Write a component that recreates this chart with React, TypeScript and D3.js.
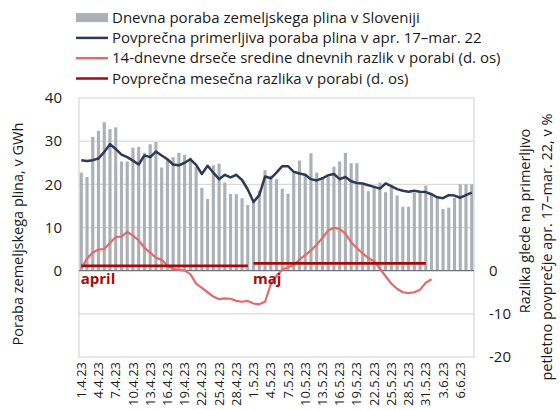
import React from "react";
import * as d3 from "d3";

const startDate = new Date(2023, 3, 1);
const endDate = new Date(2023, 5, 9);
const days: Date[] = d3.timeDay.range(startDate, endDate);
const fmt = d3.timeFormat("%-d.%-m.%y");
const dayLabels: string[] = days.map((d) => fmt(d));

// daily consumption (GWh)
const consumption: number[] = [
  22.7, 21.7, 31.0, 32.4, 34.4, 32.8, 33.2, 25.3, 25.3, 28.5,
  28.7, 27.3, 29.3, 29.8, 23.9, 25.6, 26.3, 27.3, 26.8, 26.2,
  24.0, 19.2, 16.6, 24.4, 24.8, 20.4, 17.8, 17.7, 16.8, 15.2,
  16.5, 18.5, 23.3, 22.0, 21.2, 19.0, 17.8, 22.6, 25.5, 22.4,
  27.2, 22.7, 21.4, 21.8, 24.1, 25.3, 27.3, 24.9, 24.9, 20.0,
  18.4, 19.5, 20.4, 18.2, 19.4, 17.4, 14.8, 14.8, 18.0, 18.3,
  19.7, 18.0, 17.3, 14.3, 14.6, 16.9, 20.0, 20.0, 20.0,
];

// comparable average consumption Apr 17 – Mar 22 (GWh)
const comparable: number[] = [
  25.6, 25.4, 25.6, 26.0, 27.5, 29.3, 28.2, 26.9, 26.3, 25.5,
  24.6, 26.7, 26.3, 27.6, 26.7, 25.8, 24.6, 24.4, 25.0, 25.8,
  24.5, 22.4, 24.3, 22.7, 21.2, 22.2, 21.6, 22.2, 21.0, 18.8,
  15.9, 17.5, 21.8, 21.4, 22.7, 24.2, 24.2, 22.9, 22.5, 22.2,
  21.2, 20.9, 21.4, 22.1, 22.4, 21.2, 21.7, 20.7, 20.3, 20.2,
  19.8, 19.4, 19.0, 20.2, 19.6, 18.9, 18.5, 18.3, 18.5, 18.3,
  18.2, 17.7, 17.0, 16.8, 17.5, 17.4, 16.9, 17.5, 18.1,
];

// 14-day moving average of differences (%), right axis
const movingAvg: (number | null)[] = [
  0.5, 2.8, 4.2, 4.9, 5.0, 6.4, 7.8, 7.9, 9.0, 8.1,
  7.0, 5.3, 4.2, 3.0, 2.5, 1.2, 0.4, 0.2, 0.0, -0.8,
  -3.0, -4.0, -5.0, -6.0, -6.6, -6.4, -6.5, -7.0, -7.2, -7.0,
  -7.6, -7.8, -7.2, -3.2, -1.2, 0.2, 0.8, 1.3, 2.6, 3.6,
  4.7, 6.0, 7.6, 9.3, 9.9, 9.7, 8.6, 6.6, 5.2, 4.0,
  2.9, 2.2, 0.5, -1.3, -3.0, -4.2, -5.0, -5.2, -5.0, -4.4,
  -2.8, -2.0, null, null, null, null, null, null, null,
];

// monthly average differences (%), right axis
const monthNames: string[] = ["april", "maj"];
const monthAvg: number[] = [1.1, 1.7];
const monthFirstDay: string[] = ["1.4.23", "1.5.23"];
const monthLastDay: string[] = ["30.4.23", "31.5.23"];

const leftTicks: number[] = [0, 10, 20, 30, 40];
const rightTicks: number[] = [0, -10, -20];
const gridValues: number[] = [-10, 10, 20, 30];

const legendLabels: string[] = [
  "Dnevna poraba zemeljskega plina v Sloveniji",
  "Povprečna primerljiva poraba plina v apr. 17–mar. 22",
  "14-dnevne drseče sredine dnevnih razlik v porabi (d. os)",
  "Povprečna mesečna razlika v porabi (d. os)",
];

const W = 560;
const H = 410;
const M = { left: 79, right: 474, top: 98, bottom: 357 };
const FONT = "'Open Sans', 'Noto Sans', sans-serif";
const C_BAR = "#abb1b7";
const C_NAVY = "#2c3957";
const C_PINK = "#e26b69";
const C_RED = "#a50a0a";

export default function App() {
  const x = d3
    .scaleBand<string>()
    .domain(dayLabels)
    .range([M.left, M.right])
    .paddingInner(0.45)
    .paddingOuter(0.12);
  const y = d3.scaleLinear().domain([-20, 40]).range([M.bottom, M.top]);
  const yR = d3.scaleLinear().domain([-20, 40]).range([M.bottom, M.top]);
  const cx = (lab: string) => (x(lab) as number) + x.bandwidth() / 2;

  const navyLine = d3
    .line<number>()
    .x((_, i) => cx(dayLabels[i]))
    .y((v) => y(v))
    .curve(d3.curveLinear);
  const pinkLine = d3
    .line<number | null>()
    .defined((v) => v !== null)
    .x((_, i) => cx(dayLabels[i]))
    .y((v) => yR(v as number));

  const legendY = (i: number) => 17.6 + i * 20.3;

  return (
    <svg
      width={W}
      height={H}
      style={{ position: "absolute", left: 0, top: 0, background: "#fff" }}
      fontFamily={FONT}
    >
      {/* legend */}
      <g>
        <rect x={76} y={legendY(0) - 4.5} width={32} height={9} fill={C_BAR} />
        <line x1={76} x2={108} y1={legendY(1)} y2={legendY(1)} stroke={C_NAVY} strokeWidth={2.5} />
        <line x1={76} x2={108} y1={legendY(2)} y2={legendY(2)} stroke={C_PINK} strokeWidth={2.5} />
        <line x1={76} x2={108} y1={legendY(3)} y2={legendY(3)} stroke={C_RED} strokeWidth={2.5} />
        {legendLabels.map((t, i) => (
          <text key={t} x={112} y={legendY(i)} dy="0.35em" fontSize={15} fill="#1a1a1a">
            {t}
          </text>
        ))}
      </g>

      {/* grid */}
      {gridValues.map((v) => (
        <line key={v} x1={M.left} x2={M.right} y1={y(v)} y2={y(v)} stroke="#d3d3d3" strokeWidth={1} />
      ))}
      <rect
        x={M.left}
        y={M.top}
        width={M.right - M.left}
        height={M.bottom - M.top}
        fill="none"
        stroke="#cfcfcf"
        strokeWidth={1}
      />

      {/* bars */}
      {consumption.map((v, i) => (
        <rect
          key={i}
          x={x(dayLabels[i])}
          width={x.bandwidth()}
          y={y(v)}
          height={y(0) - y(v)}
          fill={C_BAR}
        />
      ))}

      {/* zero line */}
      <line x1={M.left} x2={M.right} y1={y(0)} y2={y(0)} stroke="#6f7378" strokeWidth={1.2} />

      {/* navy line */}
      <path d={navyLine(comparable) || ""} fill="none" stroke={C_NAVY} strokeWidth={2.5} strokeLinejoin="round" />
      {/* pink line */}
      <path d={pinkLine(movingAvg) || ""} fill="none" stroke={C_PINK} strokeWidth={2.2} strokeLinejoin="round" />
      {/* monthly avg */}
      {monthAvg.map((v, i) => (
        <line
          key={i}
          x1={cx(monthFirstDay[i])}
          x2={cx(monthLastDay[i])}
          y1={yR(v)}
          y2={yR(v)}
          stroke={C_RED}
          strokeWidth={2.8}
        />
      ))}
      {monthNames.map((m, i) => (
        <text
          key={m}
          x={(x(monthFirstDay[i]) as number) + 1}
          y={284}
          fontSize={15}
          fontWeight="bold"
          fill={C_RED}
        >
          {m}
        </text>
      ))}

      {/* left axis */}
      {leftTicks.map((v) => (
        <text key={v} x={62} y={y(v)} dy="0.35em" textAnchor="end" fontSize={15} fill="#1a1a1a">
          {v}
        </text>
      ))}
      <text
        transform={`translate(18,234) rotate(-90)`}
        textAnchor="middle"
        dy="0.35em"
        fontSize={14.5}
        fill="#1a1a1a"
      >
        Poraba zemeljskega plina, v GWh
      </text>

      {/* right axis */}
      {rightTicks.map((v) => (
        <text key={v} x={489} y={yR(v)} dy="0.35em" textAnchor="start" fontSize={15} fill="#1a1a1a">
          {v}
        </text>
      ))}
      <text transform={`translate(525,221) rotate(-90)`} textAnchor="middle" dy="0.35em" fontSize={14.5} fill="#1a1a1a">
        Razlika glede na primerljivo
      </text>
      <text transform={`translate(547,247) rotate(-90)`} textAnchor="middle" dy="0.35em" fontSize={14.5} fill="#1a1a1a">
        petletno povprečje apr. 17–mar. 22, v %
      </text>

      {/* x axis labels */}
      {dayLabels
        .filter((_, i) => i % 3 === 0)
        .map((lab) => (
          <text
            key={lab}
            transform={`translate(${cx(lab)},${M.bottom + 5}) rotate(-90)`}
            textAnchor="end"
            dy="0.35em"
            fontSize={13}
            fill="#1a1a1a"
          >
            {lab}
          </text>
        ))}
    </svg>
  );
}
